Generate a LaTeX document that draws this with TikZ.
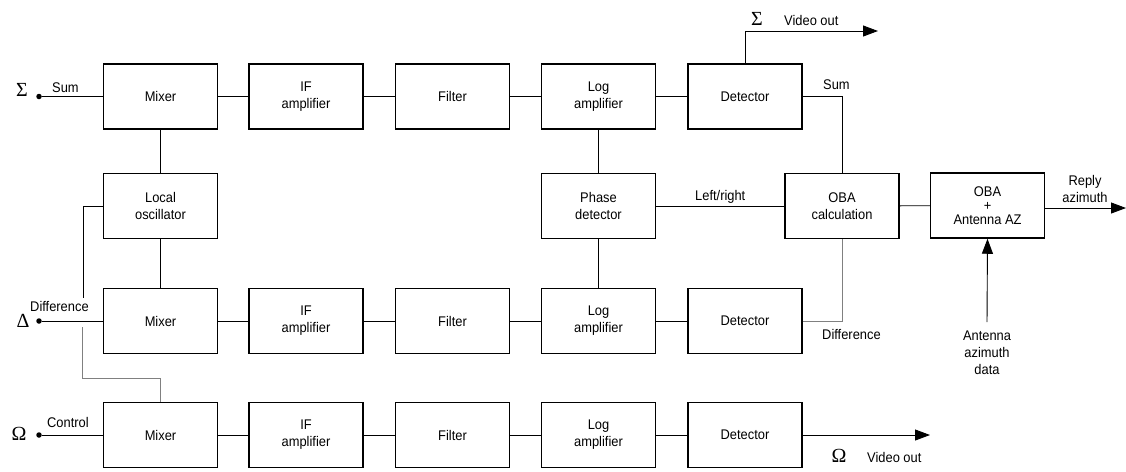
\documentclass[tikz,border=0pt]{standalone}
\usepackage{fontspec}
\setmainfont{Liberation Sans}[FakeStretch=0.92]
\newfontfamily\greekfont{Liberation Serif}
\usetikzlibrary{arrows.meta}

\tikzset{
  block/.style={draw, line width=1.5pt, minimum width=114pt, minimum height=65pt, inner sep=0pt, align=center},
  wire/.style={line width=0.9pt},
  ctrlwire/.style={line width=1pt, black!50},
  arr/.style={wire, -{Triangle[length=15pt,width=11pt]}},
  pin/.style={circle, fill, inner sep=0pt, minimum size=5.5pt},
  lbl/.style={inner sep=0pt},
  greek/.style={inner sep=0pt, font=\greekfont\fontsize{20}{20}\selectfont},
}

\begin{document}
\begin{tikzpicture}[x=1pt, y=-1pt, font=\fontsize{14}{17}\selectfont]
  \useasboundingbox (0,0) rectangle (1126,471);

  % sum channel
  \node [block] (mixS) at (160.5,96.5) {Mixer};
  \node [block] (ifS) at (306,96.5) {IF\\amplifier};
  \node [block] (filS) at (452.5,96.5) {Filter};
  \node [block] (logS) at (598.5,96.5) {Log\\amplifier};
  \node [block] (detS) at (745,96.5) {Detector};

  % middle row
  \node [block] (lo) at (160.5,206) {Local\\oscillator};
  \node [block] (phase) at (598.5,206) {Phase\\detector};
  \node [block] (oba) at (842,206) {OBA\\calculation};
  \node [block] (az) at (987.5,205.5) {OBA\\[-3pt]+\\[-3pt]Antenna AZ};

  % difference channel
  \node [block] (mixD) at (160.5,321) {Mixer};
  \node [block] (ifD) at (306,321) {IF\\amplifier};
  \node [block] (filD) at (452.5,321) {Filter};
  \node [block] (logD) at (598.5,321) {Log\\amplifier};
  \node [block] (detD) at (745,321) {Detector};

  % control channel
  \node [block] (mixC) at (160.5,435) {Mixer};
  \node [block] (ifC) at (306,435) {IF\\amplifier};
  \node [block] (filC) at (452.5,435) {Filter};
  \node [block] (logC) at (598.5,435) {Log\\amplifier};
  \node [block] (detC) at (745,435) {Detector};

  % inputs
  \node [greek] (sigIn) at (22,90) {Σ};
  \node [pin] (inS) at (39,96.5) {};
  \node [lbl, anchor=base west] (sumIn) at (52,92) {Sum};
  \node [greek] (delIn) at (23,321) {Δ};
  \node [pin] (inD) at (39,321) {};
  \node [lbl, anchor=base west] (difIn) at (30,311) {Difference};
  \node [greek] (omIn) at (19,434) {Ω};
  \node [pin] (inC) at (39,435) {};
  \node [lbl, anchor=base west] (ctlIn) at (47,427) {Control};

  \draw [wire] (inS) -- (mixS) -- (ifS) -- (filS) -- (logS) -- (detS);
  \draw [wire] (inD) -- (mixD) -- (ifD) -- (filD) -- (logD) -- (detD);
  \draw [wire] (inC) -- (mixC) -- (ifC) -- (filC) -- (logC) -- (detC);

  \draw [wire] (mixS) -- (lo) -- (mixD);
  \draw [wire] (logS) -- (phase) -- (logD);
  \draw [wire] (phase) -- node [lbl, above=2pt] {Left/right} (oba);
  \draw [wire] (oba) -- (az);

  % local oscillator feed and control branch
  \coordinate (loEnd) at (83,298);
  \draw [wire] (lo.west) -| (loEnd);
  \coordinate (ctlStart) at (82,327);
  \draw [ctrlwire] (ctlStart) |- ([yshift=23pt]mixC.north) -- (mixC.north);

  % detector outputs
  \draw [wire] (detS) -| (oba);
  \node [lbl, anchor=base west] (sumOut) at (823,89) {Sum};
  \draw [ctrlwire] (detD) -| (oba);
  \node [lbl, anchor=base west] (difOut) at (822,339) {Difference};

  \coordinate (vidS) at (878,31);
  \draw [arr] (detS) |- (vidS);
  \node [greek] (sigOut) at (757,19) {Σ};
  \node [lbl, anchor=base west] (vidSLbl) at (784,25) {Video out};

  \coordinate (vidC) at (930,435);
  \draw [arr] (detC) -- (vidC);
  \node [greek] (omOut) at (839,456) {Ω};
  \node [lbl, anchor=base west] (vidCLbl) at (867,462) {Video out};

  % azimuth
  \coordinate (reply) at (1126,208);
  \draw [arr] ([yshift=-2.5pt]az.east) -- (reply);
  \node [lbl, align=center, anchor=south] (replyLbl) at (1085,203) {Reply\\azimuth};
  \node [lbl, align=center, anchor=north] (antData) at (987,331) {Antenna\\azimuth\\data};
  \draw [arr] ([yshift=9pt]antData.north) -- (az.south);
\end{tikzpicture}
\end{document}
